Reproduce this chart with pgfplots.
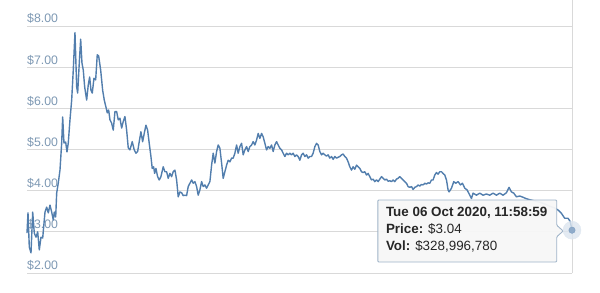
\documentclass[border=0pt]{standalone}
\usepackage{pgfplots}
\pgfplotsset{compat=1.18}
\usepackage{fontspec}
\setmainfont{Liberation Sans}
\definecolor{linec}{HTML}{527EAD}
\definecolor{gridc}{HTML}{D9D9D9}
\definecolor{tickc}{HTML}{7D98B3}
\definecolor{tipborder}{HTML}{9FB3C8}
\begin{document}
\begin{tikzpicture}[x=1bp,y=1bp]
\useasboundingbox (0,0) rectangle (600,292);
\begin{axis}[
  at={(27bp,19bp)}, anchor=south west,
  scale only axis, width=545bp, height=273bp,
  xmin=27, xmax=572.3, ymin=2, ymax=8.631,
  axis line style={draw=none},
  xtick=\empty,
  ytick={2,3,4,5,6,7,8},
  ymajorgrids, grid style={gridc, line width=0.9bp},
  major tick length=0pt,
  /pgf/number format/assume math mode=true,
  yticklabel={\$\pgfmathprintnumber[fixed,fixed zerofill,precision=2]{\tick}},
  yticklabel style={anchor=south west, inner sep=0pt, xshift=0bp, yshift=2bp, text=tickc, font=\fontsize{12.3bp}{14bp}\selectfont},
  clip=false,
]
\draw[gridc, line width=0.9bp] (rel axis cs:1,0) -- (rel axis cs:1,1);
\addplot[linec, line width=1.4bp, line join=round] coordinates {
(27,2.97) (28,3.46) (29.3,2.63) (31,2.49) (32.7,3.48) (34.3,2.97) (36,2.87) (37.7,3.00)
(39.3,2.56) (41,2.87) (42.7,2.85) (45,3.48) (46.7,3.60) (48.3,3.46) (50,3.65) (51.7,3.48)
(53.3,3.29) (54.3,3.48) (55.7,3.36) (56.7,3.94) (58.3,4.19) (60,4.50) (61.7,5.16) (62.7,5.79)
(64,5.16) (65.7,5.18) (67,4.94) (68.3,5.16) (70,5.72) (71.7,6.20) (73.3,6.93) (75,7.84)
(76.7,6.52) (77.7,6.37) (79.3,7.10) (80.7,7.68) (82,7.10) (83.3,6.93) (84.7,6.52) (86.7,6.20)
(88.3,6.57) (89.7,6.76) (91,6.44) (92.3,6.37) (94,6.73) (95.7,6.69) (97.3,7.30) (98.7,7.27)
(100.7,6.93) (102.7,6.44) (104.3,6.20) (106,6.03) (107.3,5.89) (108.7,5.96) (110,5.72)
(111.7,5.64) (113.3,5.47) (115,5.92) (116.7,5.92) (118.3,5.72) (120,5.76) (121.7,5.52)
(123.3,5.68) (125,5.80) (126.7,5.47) (128.3,5.04) (130,4.99) (132.3,5.19) (134.3,4.99)
(136,4.91) (137.7,4.95) (139.3,5.19) (141,5.43) (142.7,5.19) (144.3,5.39) (146,5.59)
(147.7,5.47) (149.3,5.15) (151,4.83) (152.3,4.54) (153.7,4.58) (154.7,4.42) (156,4.54)
(157.7,4.34) (159.3,4.26) (161,4.34) (163.3,4.58) (165,4.46) (166.7,4.46) (168.3,4.30)
(170,4.42) (171.7,4.34) (173.3,4.46) (175,4.50) (176.7,4.26) (178.3,3.85) (180,3.97)
(181.7,3.95) (183.3,3.88) (185,3.89) (186.7,3.88) (188.3,4.10) (190,4.18) (191.7,4.26)
(193.3,4.18) (195,4.22) (196.7,4.10) (198.3,3.89) (200,4.02) (201.7,4.22) (203.3,4.10)
(205,4.14) (206.7,4.06) (208.3,4.14) (210,4.22) (211.7,4.62) (213.3,4.91) (215,4.67)
(216.7,4.95) (218.3,5.11) (220,5.03) (221.7,4.67) (223.3,4.30) (225,4.46) (226.7,4.62)
(228.3,4.74) (230,4.70) (231.7,4.79) (233.3,4.79) (235,4.91) (236.7,5.11) (238.3,4.91)
(240,5.07) (241.7,5.15) (243.3,4.87) (245,4.99) (246.7,5.07) (248.3,4.95) (250,5.07)
(251.7,5.11) (253.3,5.19) (255,5.11) (256.7,5.23) (258.3,5.39) (260,5.27) (261.7,5.39)
(263.3,5.31) (265,5.15) (266.7,4.99) (268.3,5.07) (270,5.03) (271.7,5.11) (273.3,4.95)
(275,5.11) (276.7,5.19) (278.3,5.11) (280,5.03) (281.7,4.99) (283.3,4.91) (285,4.83)
(286.7,4.91) (288.3,4.87) (290,4.91) (291.7,4.87) (293.3,4.91) (295,4.83) (296.7,4.87)
(298.3,4.83) (300,4.74) (301.7,4.87) (303.3,4.91) (305,4.83) (306.7,4.87) (308.3,4.79)
(310,4.83) (311.7,4.83) (313.3,4.91) (315,5.07) (316.7,5.15) (318.3,5.11) (320,4.95)
(321.7,4.87) (323.3,4.91) (325,4.87) (326.7,4.84) (328.3,4.87) (330,4.79) (331.7,4.83)
(333.3,4.76) (335,4.83) (336.7,4.79) (338.3,4.81) (340,4.83) (341.7,4.87) (343.3,4.89)
(345,4.83) (346.7,4.79) (348.3,4.70) (350,4.58) (351.7,4.50) (353.3,4.58) (355,4.52)
(356.7,4.62) (358.3,4.58) (360,4.54) (361.7,4.46) (363.3,4.44) (365,4.46) (366.7,4.38)
(368.3,4.42) (370,4.34) (371.7,4.26) (373.3,4.28) (375,4.22) (376.7,4.26) (378.3,4.22)
(380,4.28) (381.7,4.34) (383.3,4.30) (385,4.26) (386.7,4.28) (388.3,4.23) (390,4.24)
(391.7,4.22) (393.3,4.26) (395,4.22) (396.7,4.28) (398.3,4.30) (400,4.34) (401.7,4.30)
(403.3,4.26) (405,4.22) (406.7,4.18) (408.3,4.10) (410,4.08) (411.7,4.10) (413.3,4.03)
(415,4.08) (416.7,4.10) (418.3,4.14) (420,4.11) (421.7,4.15) (423.3,4.14) (425,4.18)
(426.7,4.16) (428.3,4.19) (430,4.18) (431.7,4.26) (433.3,4.26) (435,4.38) (436.7,4.44)
(438.3,4.40) (440,4.46) (441.7,4.46) (443.3,4.42) (445,4.38) (446.7,4.26) (448.3,4.02)
(449.3,3.97) (451.7,4.06) (454,4.22) (456,4.18) (458.3,4.22) (460.7,4.14) (462.7,4.18)
(465,4.06) (467.3,4.02) (470,3.89) (471.7,3.81) (473.3,3.94) (476.7,3.89) (480,3.94)
(483.3,3.89) (486.7,3.92) (490,3.89) (493.3,3.94) (496.7,3.89) (500,3.94) (503.3,3.89)
(506.7,3.95) (509.3,4.08) (511.7,3.97) (514,3.94) (516.7,3.85) (520,3.87) (523.3,3.84)
(526,3.81) (530,3.78) (535,3.75) (540,3.72) (545,3.68) (550,3.62) (555,3.58) (558.3,3.53)
(561.7,3.45) (565,3.33) (568.3,3.33) (570.5,3.25) (572.3,3.04)
};
\addplot[only marks, mark=*, mark size=9bp, color=linec!20, opacity=0.8] coordinates {(572.3,3.04)};
\addplot[only marks, mark=*, mark size=3.2bp, color=linec!75, fill=linec!65] coordinates {(572.3,3.04)};
% tooltip
\filldraw[draw=tipborder, fill=gray!6, fill opacity=0.95, line width=0.9bp, rounded corners=1bp]
  (axis cs:378,3.773) -- (axis cs:557,3.773) -- (axis cs:557,3.16) -- (axis cs:563.5,3.02) -- (axis cs:557,2.88)
  -- (axis cs:557,2.267) -- (axis cs:378,2.267) -- cycle;
\node[anchor=north west, align=left, inner sep=0pt, font=\fontsize{13.4bp}{17bp}\selectfont, text=black!85]
  at (axis cs:386,3.60) {\textbf{Tue 06 Oct 2020, 11:58:59}\\\textbf{Price:} \$3.04\\\textbf{Vol:} \$328,996,780};
\end{axis}
\end{tikzpicture}
\end{document}
